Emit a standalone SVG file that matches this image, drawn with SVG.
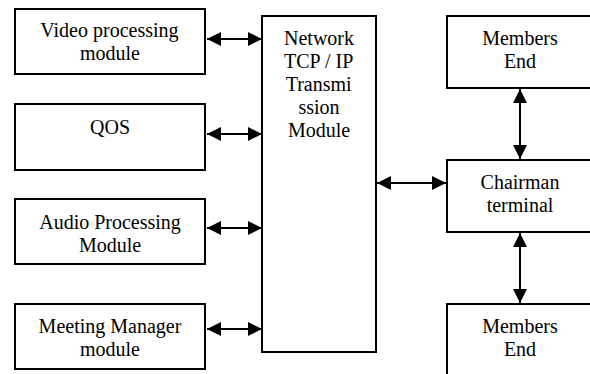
<svg xmlns="http://www.w3.org/2000/svg" width="590" height="374" viewBox="0 0 590 374">
  <defs>
    <!-- filled arrowhead used at both ends of every connector -->
    <marker id="head" viewBox="0 0 14 14" refX="14" refY="7" markerWidth="14" markerHeight="14" markerUnits="userSpaceOnUse" orient="auto-start-reverse">
      <path d="M0,0 L14,7 L0,14 Z" fill="#000000"/>
    </marker>
  </defs>
  <rect x="0" y="0" width="590" height="374" fill="#ffffff"/>

  <!-- labels are placed by their left edge, pre-centred for 20px Times-metric text -->
  <g id="video">
    <rect x="15" y="9" width="190" height="65" fill="#ffffff" stroke="#000000" stroke-width="2"/>
    <text x="40.3" y="37" font-family="Liberation Serif" font-size="20">Video processing</text>
    <text x="80" y="60" font-family="Liberation Serif" font-size="20">module</text>
  </g>
  <g id="qos">
    <rect x="15" y="104" width="190" height="66" fill="#ffffff" stroke="#000000" stroke-width="2"/>
    <text x="90" y="134" font-family="Liberation Serif" font-size="20">QOS</text>
  </g>
  <g id="audio">
    <rect x="15" y="199" width="190" height="65" fill="#ffffff" stroke="#000000" stroke-width="2"/>
    <text x="39.2" y="229" font-family="Liberation Serif" font-size="20">Audio Processing</text>
    <text x="78.9" y="252" font-family="Liberation Serif" font-size="20">Module</text>
  </g>
  <g id="meeting">
    <rect x="15" y="304" width="190" height="65" fill="#ffffff" stroke="#000000" stroke-width="2"/>
    <text x="38.6" y="333" font-family="Liberation Serif" font-size="20">Meeting Manager</text>
    <text x="80" y="356" font-family="Liberation Serif" font-size="20">module</text>
  </g>
  <g id="network">
    <rect x="262" y="16" width="114" height="336" fill="#ffffff" stroke="#000000" stroke-width="2"/>
    <text x="284" y="45" font-family="Liberation Serif" font-size="20">Network</text>
    <text x="284" y="68" font-family="Liberation Serif" font-size="20">TCP / IP</text>
    <text x="285.7" y="91" font-family="Liberation Serif" font-size="20">Transmi</text>
    <text x="298.4" y="114" font-family="Liberation Serif" font-size="20">ssion</text>
    <text x="287.9" y="137" font-family="Liberation Serif" font-size="20">Module</text>
  </g>
  <g id="members-top">
    <rect x="447" y="16" width="146" height="72" fill="#ffffff" stroke="#000000" stroke-width="2"/>
    <text x="482.2" y="45" font-family="Liberation Serif" font-size="20">Members</text>
    <text x="503.9" y="68" font-family="Liberation Serif" font-size="20">End</text>
  </g>
  <g id="chairman">
    <rect x="447" y="160" width="146" height="72" fill="#ffffff" stroke="#000000" stroke-width="2"/>
    <text x="480.6" y="189" font-family="Liberation Serif" font-size="20">Chairman</text>
    <text x="486.7" y="212" font-family="Liberation Serif" font-size="20">terminal</text>
  </g>
  <g id="members-bottom">
    <rect x="447" y="304" width="146" height="80" fill="#ffffff" stroke="#000000" stroke-width="2"/>
    <text x="482.2" y="333" font-family="Liberation Serif" font-size="20">Members</text>
    <text x="503.9" y="356" font-family="Liberation Serif" font-size="20">End</text>
  </g>

  <g id="connectors" stroke="#000000" stroke-width="2" fill="none">
    <line x1="207" y1="39" x2="262" y2="39" marker-start="url(#head)" marker-end="url(#head)"/>
    <line x1="207" y1="134" x2="262" y2="134" marker-start="url(#head)" marker-end="url(#head)"/>
    <line x1="207" y1="228" x2="262" y2="228" marker-start="url(#head)" marker-end="url(#head)"/>
    <line x1="207" y1="329" x2="262" y2="329" marker-start="url(#head)" marker-end="url(#head)"/>
    <line x1="377" y1="183" x2="446" y2="183" marker-start="url(#head)" marker-end="url(#head)"/>
    <line x1="520" y1="89" x2="520" y2="159" marker-start="url(#head)" marker-end="url(#head)"/>
    <line x1="520" y1="233" x2="520" y2="303" marker-start="url(#head)" marker-end="url(#head)"/>
  </g>
</svg>
